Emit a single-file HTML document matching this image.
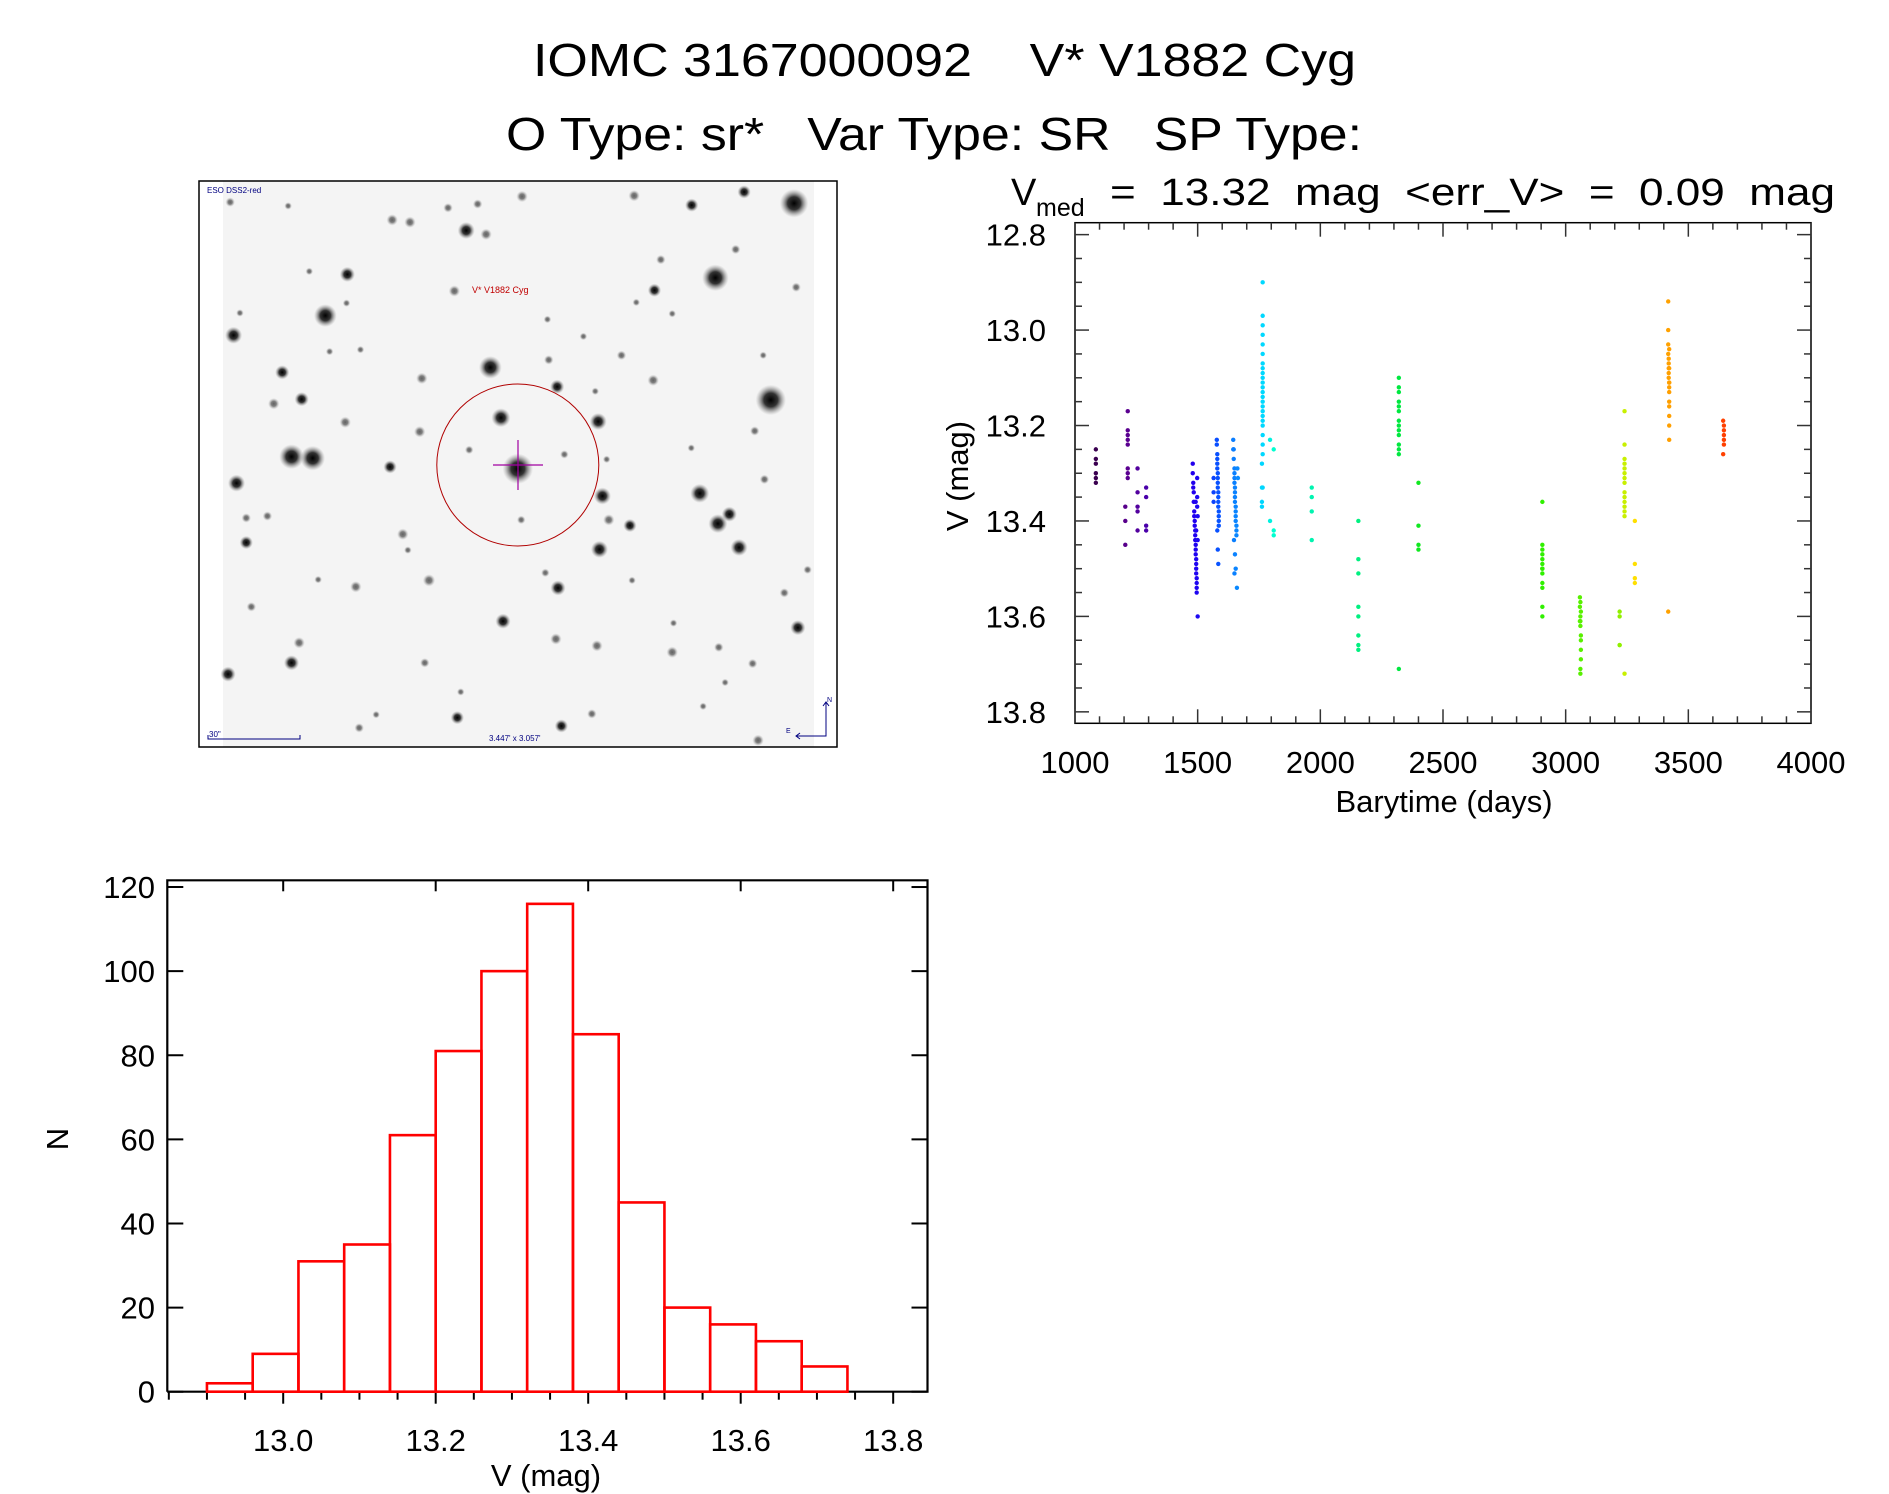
<!DOCTYPE html>
<html><head><meta charset="utf-8"><style>
html,body{margin:0;padding:0;background:#fff;}
svg{display:block;font-family:"Liberation Sans","DejaVu Sans",sans-serif;}
text{white-space:pre;}
</style></head><body>
<svg id="fig" width="1889" height="1494" viewBox="0 0 1889 1494" xmlns="http://www.w3.org/2000/svg" xml:space="preserve">
<rect width="1889" height="1494" fill="#fff"/>
<text x="533" y="76" font-size="46" textLength="823" lengthAdjust="spacingAndGlyphs" fill="#000">IOMC 3167000092    V* V1882 Cyg</text>
<text x="506" y="150" font-size="46" textLength="856" lengthAdjust="spacingAndGlyphs" fill="#000">O Type: sr*   Var Type: SR   SP Type:</text>
<g id="img"></g>
<g id="lc"></g>
<g id="hist"></g>
</svg>
<script>
// ---------- Light curve data ----------
const lcTimes = [1085,1085,1085,1085,1085,1085,
 1215,1215,1215,1215,1215,1215,1215,1215,1205,1205,1205,1255,1255,1255,1255,1255,1290,1290,1290,1290,
 1480,1480,1482,1482,1484,1484,1486,1486,1488,1488,1490,1490,1490,1492,1492,1492,1494,1494,1494,1494,1496,1496,1496,1496,1498,1498,1498,1500,1500,1500,1492,1494,
 1565,1565,1565,1578,1578,1580,1580,1580,1580,1582,1582,1582,1582,1584,1584,1584,1584,1586,1586,1586,1586,1580,1582,1584,
 1645,1645,1647,1647,1650,1650,1650,1650,1652,1652,1652,1652,1655,1655,1655,1655,1658,1658,1658,1648,1652,1655,1650,1660,1662,1664,
 1765,1765,1765,1765,1765,1765,1765,1765,1765,1765,1765,1765,1765,1765,1765,1765,1765,1765,1765,1765,1765,1765,1765,1765,1762,1762,1762,1762,1795,1795,1810,1810,1810,
 1965,1965,1965,1965,
 2155,2155,2155,2155,2155,2155,2155,2155,
 2320,2320,2320,2320,2320,2320,2320,2320,2320,2320,2320,2320,2320,2320,
 2400,2400,2400,2400,
 2905,2905,2905,2905,2905,2905,2905,2905,2905,2905,2905,2905,2905,
 3058,3058,3058,3060,3060,3060,3060,3062,3062,3062,3062,3062,3060,3060,
 3220,3220,3220,3220,
 3240,3240,3240,3240,3240,3240,3240,3240,3240,3240,3240,3240,3240,3240,3240,
 3282,3282,3282,3282,
 3418,3418,3418,3418,3418,3420,3420,3420,3420,3420,3422,3422,3422,3422,3422,3422,3422,3422,3422,3422,3422,
 3642,3642,3645,3645,3645,3645,3645];
const lcMags = [13.25,13.27,13.28,13.30,13.31,13.32,
 13.17,13.21,13.22,13.23,13.24,13.29,13.30,13.31,13.37,13.40,13.45,13.29,13.34,13.37,13.38,13.42,13.33,13.35,13.41,13.42,
 13.28,13.30,13.32,13.33,13.34,13.36,13.38,13.39,13.40,13.41,13.42,13.43,13.44,13.45,13.46,13.47,13.48,13.49,13.50,13.51,13.52,13.53,13.54,13.55,13.37,13.35,13.31,13.39,13.44,13.60,13.36,13.42,
 13.31,13.34,13.36,13.23,13.24,13.26,13.27,13.28,13.29,13.30,13.31,13.32,13.33,13.34,13.35,13.36,13.37,13.38,13.39,13.40,13.41,13.42,13.46,13.49,13.25,
 13.23,13.25,13.27,13.29,13.30,13.31,13.32,13.33,13.34,13.35,13.36,13.37,13.38,13.39,13.40,13.41,13.42,13.43,13.44,13.47,13.50,13.51,13.54,13.29,13.31,13.33,
 12.90,12.97,12.99,13.01,13.03,13.05,13.07,13.08,13.09,13.10,13.11,13.12,13.13,13.14,13.15,13.16,13.17,13.18,13.19,13.20,13.22,13.24,13.26,13.28,13.33,13.36,13.37,13.40,13.23,13.25,13.42,13.43,13.44,
 13.33,13.35,13.38,13.40,
 13.48,13.51,13.58,13.60,13.64,13.66,13.67,13.71,
 13.10,13.12,13.13,13.15,13.16,13.17,13.19,13.20,13.21,13.22,13.24,13.25,13.26,13.32,
 13.41,13.45,13.46,13.48,
 13.36,13.45,13.46,13.47,13.49,13.50,13.50,13.51,13.53,13.54,13.58,13.60,13.61,
 13.56,13.58,13.60,13.57,13.61,13.62,13.64,13.59,13.65,13.67,13.69,13.71,13.72,13.66,
 13.59,13.60,13.66,13.72,
 13.17,13.24,13.27,13.28,13.29,13.30,13.31,13.32,13.34,13.35,13.36,13.37,13.38,13.39,13.40,
 13.49,13.52,13.53,13.59,
 12.94,13.00,13.03,13.05,13.06,13.07,13.08,13.09,13.10,13.11,13.12,13.04,13.08,13.11,13.13,13.15,13.16,13.18,13.20,13.23,13.26,
 13.19,13.20,13.21,13.22,13.23,13.24,13.26];
const lcXTicks = [1000,1500,2000,2500,3000,3500,4000];
const lcYTicks = [12.8,13.0,13.2,13.4,13.6,13.8];
const cmapT = [1000,1085,1215,1490,1580,1650,1765,1810,1965,2155,2320,2400,2905,3060,3220,3240,3280,3420,3645,4000];
const cmapC = ['#30003c','#3a0050','#5a0090','#2000f0','#0850ff','#0a80ff','#00d8ff','#00ffd0','#00f4b0','#00f080','#00e840','#10e820','#30f000','#58f000','#90f000','#c8f000','#ffe000','#ffa000','#ff4000','#ff0000'];

// ---------- Histogram data ----------
const histEdges = [12.90,12.96,13.02,13.08,13.14,13.20,13.26,13.32,13.38,13.44,13.50,13.56,13.62,13.68,13.74];
const histCounts = [2,9,31,35,61,81,100,116,85,45,20,16,12,6];
const histXTicks = [13.0,13.2,13.4,13.6,13.8];
const histYTicks = [0,20,40,60,80,100,120];

const NS='http://www.w3.org/2000/svg';
function mk(tag, attrs, parent, txt){
  const e=document.createElementNS(NS,tag);
  for(const k in attrs) e.setAttribute(k,attrs[k]);
  if(txt!==undefined) e.textContent=txt;
  parent.appendChild(e); return e;
}
function hex2rgb(h){return [parseInt(h.substr(1,2),16),parseInt(h.substr(3,2),16),parseInt(h.substr(5,2),16)];}
function cmap(t){
  for(let i=0;i<cmapT.length-1;i++){
    if(t<=cmapT[i+1]){
      const f=(t-cmapT[i])/(cmapT[i+1]-cmapT[i]);
      const a=hex2rgb(cmapC[i]), b=hex2rgb(cmapC[i+1]);
      return 'rgb('+a.map((v,j)=>Math.round(v+(b[j]-v)*f)).join(',')+')';
    }
  }
  return cmapC[cmapC.length-1];
}

// ---------- Light curve ----------
(function(){
  const g=document.getElementById('lc');
  const L=1075,R=1811,T=222.7,B=723.3;
  const x0=1000,x1=4000,y0=12.775,y1=13.824;
  const sx=v=>L+(v-x0)/(x1-x0)*(R-L);
  const sy=v=>T+(v-y0)/(y1-y0)*(B-T);
  const fr=mk('rect',{x:L,y:T,width:R-L,height:B-T,fill:'none',stroke:'#000','stroke-width':1.5},g);
  
  
  for(let v=1000; v<=4000; v+=100){
    const major=(v%500===0); const len=major?14:7;
    mk('line',{x1:sx(v),x2:sx(v),y1:B,y2:B-len,stroke:'#333','stroke-width':1.5},g);
    mk('line',{x1:sx(v),x2:sx(v),y1:T,y2:T+len,stroke:'#333','stroke-width':1.5},g);
  }
  for(let k=0;k<=21;k++){
    const v=12.8+k*0.05; if(v>13.82) break;
    const major=(k%4===0); const len=major?14:7;
    mk('line',{x1:L,x2:L+len,y1:sy(v),y2:sy(v),stroke:'#333','stroke-width':1.5},g);
    mk('line',{x1:R,x2:R-len,y1:sy(v),y2:sy(v),stroke:'#333','stroke-width':1.5},g);
  }
  lcXTicks.forEach(v=>{
    const t=mk('text',{x:sx(v),y:773,'font-size':31,'text-anchor':'middle',fill:'#000'},g,String(v));
    
    
  });
  lcYTicks.forEach(v=>{
    const t=mk('text',{x:1046,y:sy(v)+11,'font-size':31,'text-anchor':'end',fill:'#000'},g,v.toFixed(1));
    
    
  });
  const xt=mk('text',{x:1444,y:812,'font-size':31,'text-anchor':'middle',fill:'#000'},g,'Barytime (days)');
  
  
  const yt=mk('text',{x:0,y:0,'font-size':31,'text-anchor':'middle',fill:'#000',transform:'translate(968,476) rotate(-90)'},g,'V (mag)');
  
  
  const st=mk('text',{x:1011,y:205,'font-size':38,fill:'#000'},g);
  
  
  st.textContent='V';
  const sub=mk('text',{x:1036,y:216,'font-size':25,fill:'#000'},g,'med');
  
  
  const st2=mk('text',{x:1110,y:205,'font-size':38,fill:'#000',textLength:725,lengthAdjust:'spacingAndGlyphs'},g,'=  13.32  mag  <err_V>  =  0.09  mag');
  
  
  for(let i=0;i<lcTimes.length;i++){
    const c=mk('circle',{cx:sx(lcTimes[i]),cy:sy(lcMags[i]),r:2.2,fill:cmap(lcTimes[i])},g);
    
    
  }
})();

// ---------- Histogram ----------
(function(){
  const g=document.getElementById('hist');
  const L=167.3,R=927.5,T=880.3,B=1391.7;
  const x0=12.848,x1=13.845,y0=0,y1=121.6;
  const sx=v=>L+(v-x0)/(x1-x0)*(R-L);
  const sy=v=>B-(v-y0)/(y1-y0)*(B-T);
  const ax=mk('path',{d:`M${L},${B} L${L},${T} L${R},${T} L${R},${B} L${L},${B}`,fill:'none',stroke:'#000','stroke-width':2.2},g);
  
  
  for(let k=0;k<=19;k++){
    const v=12.85+k*0.05; if(v>13.84) break;
    const major=(Math.abs((v-13.0)/0.2-Math.round((v-13.0)/0.2))<1e-6);
    mk('line',{x1:sx(v),x2:sx(v),y1:B,y2:B+(major?12:8),stroke:'#000','stroke-width':2},g);
    mk('line',{x1:sx(v),x2:sx(v),y1:T,y2:T+(major?11:0),stroke:'#000','stroke-width':2},g);
  }
  histYTicks.forEach(v=>{
    mk('line',{x1:L,x2:L+16,y1:sy(v),y2:sy(v),stroke:'#000','stroke-width':2},g);
    mk('line',{x1:R,x2:R-16,y1:sy(v),y2:sy(v),stroke:'#000','stroke-width':2},g);
    const t=mk('text',{x:155,y:sy(v)+11,'font-size':31,'text-anchor':'end',fill:'#000'},g,String(v));
    
    
  });
  histXTicks.forEach(v=>{
    const t=mk('text',{x:sx(v),y:1451,'font-size':31,'text-anchor':'middle',fill:'#000'},g,v.toFixed(1));
    
    
  });
  const xt=mk('text',{x:546,y:1486,'font-size':31,'text-anchor':'middle',fill:'#000'},g,'V (mag)');
  
  
  const yt=mk('text',{x:0,y:0,'font-size':31,'text-anchor':'middle',fill:'#000',transform:'translate(68,1139) rotate(-90)'},g,'N');
  
  
  for(let i=0;i<histCounts.length;i++){
    const r=mk('rect',{x:sx(histEdges[i]),y:sy(histCounts[i]),width:sx(histEdges[i+1])-sx(histEdges[i]),height:sy(0)-sy(histCounts[i]),fill:'none',stroke:'#ff0000','stroke-width':2.6},g);
    
    
  }
})();

// ---------- Finder image ----------
(function(){
  const g=document.getElementById('img');
  const defs=mk('defs',{},g);
  const rg=mk('radialGradient',{id:'star'},defs);
  mk('stop',{offset:'0','stop-color':'#000','stop-opacity':'1'},rg);
  mk('stop',{offset:'0.45','stop-color':'#111','stop-opacity':'0.85'},rg);
  mk('stop',{offset:'1','stop-color':'#888','stop-opacity':'0'},rg);
  const bg=mk('rect',{x:223,y:181,width:591,height:566,fill:'#f4f4f4'},g);
  
  
  const fr=mk('rect',{x:199,y:181,width:638,height:566,fill:'none',stroke:'#000','stroke-width':1.5},g);
  
  
  const stars=[[1428,88,30],[1242,285,28],[1373,608,32],[320,385,24],[710,522,24],[240,758,26],[290,762,26],[775,790,32],[735,655,20],[965,665,18],[975,862,18],[1205,855,20],[1248,935,20],[1275,910,16],[1298,998,18],[968,1003,18],[870,1105,16],[740,1193,16],[1437,1210,16],[90,1333,16],[240,1303,16],[110,828,18],[103,437,18],[372,276,16],[653,160,18],[1186,93,14],[1098,318,14],[1310,58,14],[1050,68,12],[785,70,12],[478,132,12],[520,138,12],[700,170,12],[625,320,12],[218,535,15],[264,606,15],[198,618,12],[473,785,14],[548,551,12],[543,692,12],[367,667,12],[868,573,15],[1095,556,12],[848,502,10],[1040,940,14],[990,925,12],[503,963,12],[133,985,14],[565,1085,13],[865,1240,12],[962,1258,12],[1140,1275,12],[632,1448,14],[878,1470,14],[1343,1508,12],[1330,1305,10],[258,1250,12],[145,1155,10],[392,1102,12],[183,915,10],[133,920,10],[1358,818,10],[1335,690,10],[1290,210,10],[1433,310,10],[1113,237,10],[1020,490,10],[1250,1262,10],[1405,1118,10],[950,1438,10],[400,1475,10],[555,1303,10],[783,925,9],[660,740,9],[885,752,9],[95,85,10],[610,100,10],[680,90,10],[958,585,8],[985,765,8],[840,1065,9],[1460,1057,9],[1045,1085,8],[515,1005,8],[303,1083,8],[1143,1198,8],[1213,1418,8],[440,1440,8],[640,1380,8],[1355,490,8],[1185,735,8],[1265,1355,8],[1055,350,8],[930,440,8],[845,395,8],[232,95,8],[282,268,8],[118,378,8],[370,352,8],[330,480,8],[403,475,8],[1140,380,8]];
  stars.forEach(s=>{
    const c=mk('circle',{cx:190+s[0]/2.364,cy:170+s[1]/2.644,r:s[2]/2.1,fill:'url(#star)',opacity:s[2]>=14?1:0.6},g);
    
    
  });
  const circ=mk('circle',{cx:517.8,cy:465,r:81,fill:'none',stroke:'#b00000','stroke-width':1},g);
  
  
  const ch=mk('path',{d:'M493,465 L543,465 M518,440 L518,490',stroke:'#a000a0','stroke-width':1.2,fill:'none'},g);
  
  
  const lab=mk('text',{x:472,y:293,'font-size':9,fill:'#c00000','text-anchor':'start'},g,'V* V1882 Cyg');
  
  
  const src=mk('text',{x:207,y:193,'font-size':8,fill:'#000080'},g,'ESO DSS2-red');
  
  
  const sc=mk('path',{d:'M208,735 L208,739 L300,739 L300,735',stroke:'#000080','stroke-width':1,fill:'none'},g);
  
  
  const sct=mk('text',{x:209,y:737,'font-size':8,fill:'#000080'},g,'30"');
  
  
  const fov=mk('text',{x:489,y:741,'font-size':8,fill:'#000080'},g,"3.447' x 3.057'");
  
  
  const cp=mk('path',{d:'M796,736 L826,736 L826,702 M823,706 L826,702 L829,706 M800,733 L796,736 L800,739',stroke:'#000080','stroke-width':1,fill:'none'},g);
  
  
  const cn=mk('text',{x:827,y:702,'font-size':7,fill:'#000080'},g,'N');
  
  
  const ce=mk('text',{x:786,y:733,'font-size':7,fill:'#000080'},g,'E');
  
  
})();
</script>
</body></html>
